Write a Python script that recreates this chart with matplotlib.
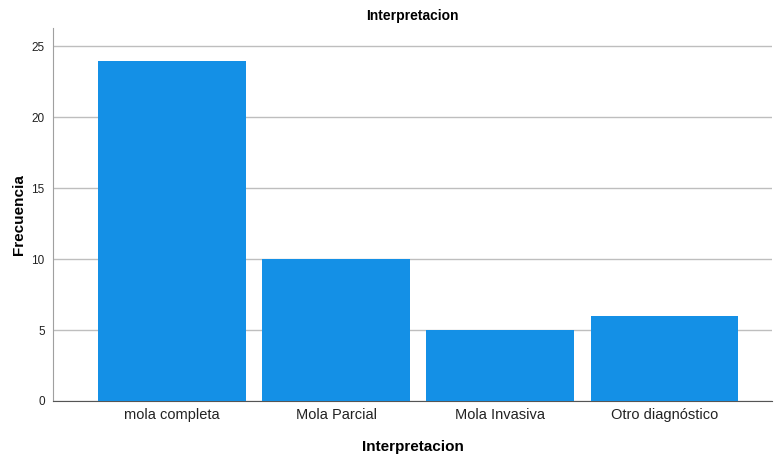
import matplotlib
matplotlib.use("Agg")
import matplotlib.pyplot as plt

categories = ["mola completa", "Mola Parcial", "Mola Invasiva", "Otro diagnóstico"]
counts = [24, 10, 5, 6]
y_ticks = [0, 5, 10, 15, 20, 25]

plt.rcParams['font.family'] = ['Liberation Sans', 'DejaVu Sans']

fig = plt.figure(figsize=(7.74, 4.55), dpi=100)
ax = fig.add_axes([0.0685, 0.1187, 0.929, 0.82])

ax.bar(range(len(categories)), counts, width=0.9, color='#1490E6', zorder=3)

ax.set_xlim(-0.725, 3.655)
ax.set_ylim(0, 26.3)
ax.set_yticks(y_ticks)
ax.set_xticks(range(len(categories)))
ax.set_xticklabels(categories, fontsize=10.5, color='#222222')
ax.tick_params(axis='y', length=0, labelsize=8.5, colors='#222222', pad=6)
ax.tick_params(axis='x', length=0, pad=5)
ax.grid(axis='y', color='#BEBEBE', linewidth=1, zorder=0)

for side in ['top', 'right']:
    ax.spines[side].set_visible(False)
ax.spines['left'].set_color('#A0A0A0')
ax.spines['bottom'].set_color('#555555')

ax.set_title("Interpretacion", fontsize=10, fontweight='bold', pad=6)
ax.set_xlabel("Interpretacion", fontsize=11, fontweight='bold', labelpad=13)
ax.set_ylabel("Frecuencia", fontsize=11, fontweight='bold', labelpad=4)

fig.savefig("out.png", dpi=100)
